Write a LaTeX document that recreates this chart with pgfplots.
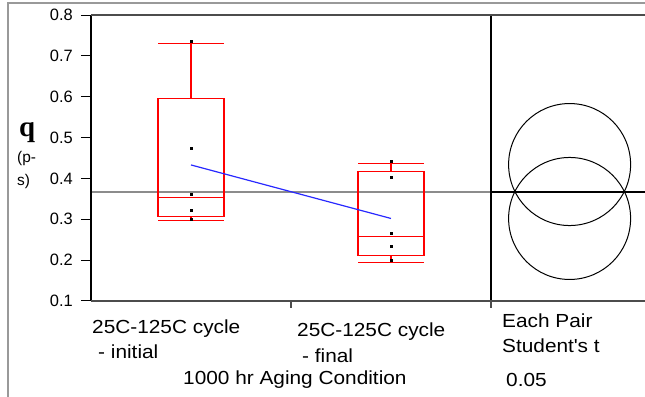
\documentclass[border=0pt]{standalone}
\usepackage{fontspec}
\setmainfont{Liberation Sans}[FakeStretch=1.1]
\newfontfamily\tickfont{Liberation Sans}
\newfontfamily\serifq{Liberation Serif}
\usepackage{pgfplots}
\pgfplotsset{compat=1.18}
\usepgfplotslibrary{statistics}
\definecolor{meanblue}{RGB}{40,40,255}
\newcommand{\sq}{\XeTeXglyph\XeTeXglyphindex "quotesingle"\relax}
\begin{document}
\begin{tikzpicture}
\path[use as bounding box] (0bp,0bp) rectangle (645bp,397bp);
\draw[black!40, line width=1.2bp] (8bp,0bp) -- (8bp,394bp) -- (645bp,394bp);
\begin{axis}[
  at={(91bp,96bp)}, anchor=south west, scale only axis,
  width=554bp, height=286bp,
  xmin=-0.5, xmax=2.27, ymin=0.1, ymax=0.8,
  axis line style={draw=none},
  ytick={0.1,0.2,0.3,0.4,0.5,0.6,0.7,0.8},
  xtick=\empty,
  tick align=outside, major tick length=10bp,
  ytick style={black, line width=1bp},
  yticklabel style={font=\tickfont\fontsize{16.5}{18}\selectfont, inner sep=0pt, xshift=-8bp,
    /pgf/number format/.cd, fixed, fixed zerofill, precision=1, assume math mode=true},
  boxplot/draw direction=y,
  clip=false,
]
% grand mean line
\addplot[black!45, line width=1.2bp] coordinates {(-0.5,0.367) (1.5,0.367)};
\addplot[black, line width=1.2bp] coordinates {(1.5,0.367) (2.27,0.367)};
% boxes
\addplot[red, line width=1.2bp, boxplot prepared={draw direction=y, draw position=0,
  lower whisker=0.297, lower quartile=0.306, median=0.354,
  upper quartile=0.596, upper whisker=0.731,
  box extend=0.33, whisker extend=0.33}] coordinates {};
\addplot[red, line width=1.2bp, boxplot prepared={draw direction=y, draw position=1,
  lower whisker=0.195, lower quartile=0.212, median=0.258,
  upper quartile=0.416, upper whisker=0.437,
  box extend=0.33, whisker extend=0.33}] coordinates {};
% mean line
\addplot[meanblue, line width=1.2bp] coordinates {(0,0.433) (1,0.302)};
% data points
\addplot[only marks, mark=square*, mark size=1bp, black] coordinates {
  (0,0.736) (0,0.475) (0,0.361) (0,0.322) (0,0.301)
  (1,0.443) (1,0.404) (1,0.266) (1,0.233) (1,0.201)};
% divider
\addplot[black, line width=1.2bp] coordinates {(1.5,0.1) (1.5,0.8)};
% comparison circles
\draw[black, line width=1bp] (axis cs:1.893,0.434) ellipse [x radius=0.305, y radius=0.1493];
\draw[black, line width=1bp] (axis cs:1.893,0.302) ellipse [x radius=0.305, y radius=0.1493];
% axis lines
\draw[black, line width=1.2bp] (rel axis cs:0,0) -- (rel axis cs:0,1);
\draw[black!70, line width=1.5bp] (rel axis cs:0,0) -- (rel axis cs:1,0);
\draw[black!70, line width=1.5bp] (rel axis cs:0,1) -- (rel axis cs:1,1);
\draw[black!70, line width=1.2bp] (axis cs:0.5,0.1) -- ([yshift=-7bp]axis cs:0.5,0.1);
\draw[black!70, line width=1.2bp] (axis cs:1.5,0.1) -- ([yshift=-7bp]axis cs:1.5,0.1);
\end{axis}
\begin{scope}[every node/.style={inner sep=0pt, anchor=base west, font=\fontsize{19}{22}\selectfont}]
\node at (92bp,63bp) {25C-125C cycle};
\node at (98bp,39bp) {- initial};
\node at (297bp,60bp) {25C-125C cycle};
\node at (302bp,35bp) {- final};
\node at (183bp,13bp) {1000 hr Aging Condition};
\node at (502bp,69bp) {Each Pair};
\node at (502bp,44bp) {Student\sq s t};
\node at (506bp,11bp) {0.05};
\node[font=\serifq\bfseries\fontsize{29}{30}\selectfont] at (19bp,260bp) {q};
\node[font=\tickfont\fontsize{15.5}{17}\selectfont] at (17bp,234bp) {(p-};
\node[font=\tickfont\fontsize{15.5}{17}\selectfont] at (17bp,211bp) {s)};
\end{scope}
\end{tikzpicture}
\end{document}
